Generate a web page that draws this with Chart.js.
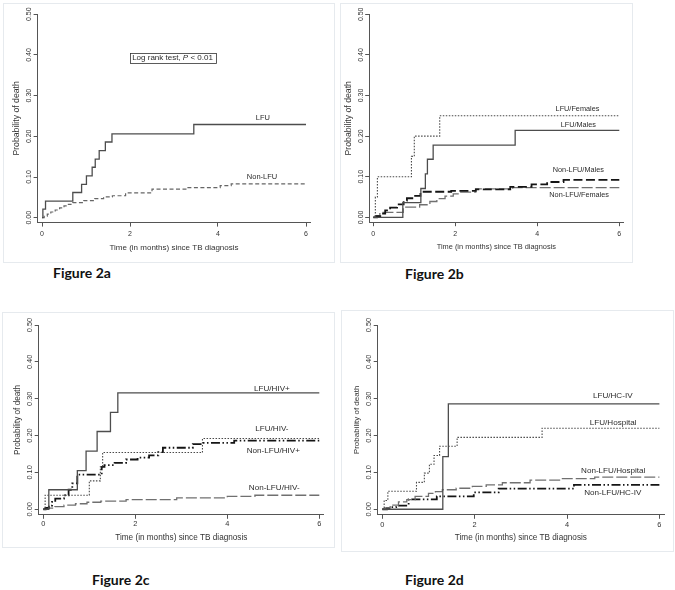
<!DOCTYPE html>
<html>
<head>
<meta charset="utf-8">
<script src="https://cdn.jsdelivr.net/npm/chart.js@4"></script>
<style>
  body { margin: 0; background: #fff; width: 675px; height: 590px; position: relative; overflow: hidden; }
  .panel { position: absolute; border: 1px solid #e6eaee; box-sizing: border-box; }
  canvas { position: absolute; }
  .fig { position: absolute; font: bold 14px/14px Lato, "Open Sans", sans-serif; color: #111; white-space: nowrap; }
</style>
</head>
<body>
<div class="panel" style="left:3px;top:3px;width:332px;height:260px"></div>
<div class="panel" style="left:340px;top:3px;width:293px;height:260px"></div>
<div class="panel" style="left:2px;top:312px;width:333px;height:236px"></div>
<div class="panel" style="left:341px;top:310px;width:333px;height:242px"></div>

<canvas id="c2a" width="332" height="260" style="left:3px;top:3px"></canvas>
<canvas id="c2b" width="293" height="260" style="left:340px;top:3px"></canvas>
<canvas id="c2c" width="333" height="236" style="left:2px;top:312px"></canvas>
<canvas id="c2d" width="333" height="242" style="left:341px;top:310px"></canvas>

<div class="fig" style="left:53px;top:266px">Figure 2a</div>
<div class="fig" style="left:405px;top:267px">Figure 2b</div>
<div class="fig" style="left:92px;top:573px">Figure 2c</div>
<div class="fig" style="left:405px;top:573px">Figure 2d</div>

<script>
// ── Axes ─────────────────────────────────────────────────────
const X_TICKS = [0, 2, 4, 6];
const Y_TICKS = [0, 0.1, 0.2, 0.3, 0.4, 0.5];

// ── Figure 2a: LFU vs Non-LFU ────────────────────────────────
const lfuTime2a = [0, 0.02, 0.08, 0.70, 0.90, 1.01, 1.14, 1.21, 1.30, 1.44, 1.59, 3.45, 6];
const lfuProb2a = [0, 0.021, 0.041, 0.062, 0.082, 0.103, 0.124, 0.144, 0.165, 0.186, 0.206, 0.229, 0.229];
const nonLfuTime2a = [0, 0.05, 0.12, 0.2, 0.3, 0.4, 0.5, 0.6, 0.7, 0.95, 1.2, 1.4, 1.6, 1.9, 2.5, 3.3, 4.05, 4.3, 6];
const nonLfuProb2a = [0, 0.004, 0.009, 0.014, 0.019, 0.024, 0.029, 0.033, 0.037, 0.042, 0.047, 0.051, 0.054, 0.061, 0.070, 0.074, 0.079, 0.083, 0.083];

// ── Figure 2b: by sex ────────────────────────────────────────
const femTime2b = [0, 0.05, 0.1, 0.93, 1.0, 1.62, 6];
const femProb2b = [0, 0.05, 0.10, 0.15, 0.20, 0.25, 0.25];
const maleTime2b = [0, 0.72, 1.16, 1.27, 1.32, 1.46, 3.46, 6];
const maleProb2b = [0, 0.036, 0.071, 0.107, 0.143, 0.178, 0.214, 0.214];
const nonMaleTime2b = [0, 0.09, 0.17, 0.29, 0.41, 0.58, 0.74, 0.82, 1.02, 1.15, 1.9, 2.5, 3.34, 3.86, 4.24, 4.64, 6];
const nonMaleProb2b = [0, 0.003, 0.009, 0.017, 0.024, 0.032, 0.041, 0.047, 0.053, 0.063, 0.065, 0.069, 0.075, 0.081, 0.087, 0.092, 0.092];
const nonFemTime2b = [0, 0.05, 0.16, 0.73, 1.13, 1.38, 1.55, 1.75, 1.95, 2.1, 2.5, 3.4, 6];
const nonFemProb2b = [0, 0.004, 0.012, 0.025, 0.031, 0.039, 0.046, 0.052, 0.058, 0.062, 0.070, 0.073, 0.073];

// ── Figure 2c: by HIV status ─────────────────────────────────
const hivPosTime2c = [0, 0.12, 0.74, 0.93, 1.17, 1.46, 1.62, 6];
const hivPosProb2c = [0, 0.053, 0.105, 0.158, 0.211, 0.263, 0.316, 0.316];
const hivNegTime2c = [0, 0.04, 1.0, 1.24, 1.29, 3.46, 6];
const hivNegProb2c = [0, 0.038, 0.077, 0.115, 0.154, 0.192, 0.192];
const nonHivPosTime2c = [0, 0.05, 0.12, 0.19, 0.26, 0.45, 0.55, 0.63, 0.74, 1.27, 1.33, 1.55, 1.8, 2.05, 2.3, 2.5, 2.6, 3.25, 3.45, 4.15, 6];
const nonHivPosProb2c = [0, 0.004, 0.01, 0.02, 0.029, 0.038, 0.053, 0.07, 0.094, 0.115, 0.12, 0.126, 0.135, 0.14, 0.146, 0.155, 0.167, 0.177, 0.18, 0.186, 0.186];
const nonHivNegTime2c = [0, 0.1, 0.25, 0.45, 0.7, 0.95, 1.25, 1.8, 2.9, 4.0, 4.6, 6];
const nonHivNegProb2c = [0, 0.003, 0.007, 0.011, 0.015, 0.019, 0.022, 0.026, 0.031, 0.035, 0.038, 0.038];

// ── Figure 2d: by facility ───────────────────────────────────
const hcTime2d = [0, 1.31, 1.43, 6];
const hcProb2d = [0, 0.143, 0.286, 0.286];
const hospTime2d = [0, 0.04, 0.12, 0.74, 0.91, 1.02, 1.12, 1.24, 1.62, 3.46, 6];
const hospProb2d = [0, 0.024, 0.049, 0.073, 0.098, 0.122, 0.146, 0.171, 0.195, 0.22, 0.22];
const nonHospTime2d = [0, 0.05, 0.17, 0.35, 0.53, 0.71, 1.0, 1.15, 1.3, 1.6, 1.95, 2.25, 2.6, 3.2, 3.9, 4.6, 6];
const nonHospProb2d = [0, 0.004, 0.011, 0.02, 0.026, 0.035, 0.043, 0.048, 0.053, 0.057, 0.062, 0.066, 0.072, 0.079, 0.083, 0.087, 0.087];
const nonHcTime2d = [0, 0.1, 0.2, 0.3, 0.57, 1.18, 1.98, 2.52, 4.15, 6];
const nonHcProb2d = [0, 0.003, 0.006, 0.01, 0.027, 0.035, 0.046, 0.056, 0.066, 0.066];

// ── Line styles (Stata-like greys) ───────────────────────────
const LINE_STYLES = {
    solid:      { borderColor: '#4d4d4d', borderWidth: 1.3, borderDash: [] },
    dotted:     { borderColor: '#4a4a4a', borderWidth: 1.1, borderDash: [1.5, 1.5] },
    dashed:     { borderColor: '#666', borderWidth: 1.2, borderDash: [4, 2.5] },
    longdash:   { borderColor: '#707070', borderWidth: 1.3, borderDash: [11, 3] },
    heavydash:  { borderColor: '#151515', borderWidth: 1.8, borderDash: [9, 3.5] },
    dashdotdot: { borderColor: '#151515', borderWidth: 1.8, borderDash: [9, 2.5, 1.5, 2.5, 1.5, 2.5] },
};

const FONT = '"Liberation Sans", Arial, sans-serif';
const Y_AXIS_W = 29;
const X_AXIS_H = 30;

const pts = (t, p) => t.map((x, i) => ({ x, y: p[i] }));

// ── Panels ───────────────────────────────────────────────────
const PANELS = [
    {
        id: 'c2a', area: { left: 34.6, right: 307.4, top: 11.2, bottom: 219.6 }, yMin: -0.012,
        labelFont: 7.5, tickFont: 7, yTitleFont: 8.7, xTitleFont: 8, tickDist: 11, titleDist: 25,
        series: [
            { name: 'LFU', t: lfuTime2a, p: lfuProb2a, style: 'solid', at: [5.02, 0.246] },
            { name: 'Non-LFU', t: nonLfuTime2a, p: nonLfuProb2a, style: 'dashed', at: [5.0, 0.099] },
        ],
        logRank: [2.966, 0.394],
    },
    {
        id: 'c2b', area: { left: 29.2, right: 283.4, top: 11.3, bottom: 219.2 }, yMin: -0.012,
        labelFont: 7.3, tickFont: 7, yTitleFont: 8.7, xTitleFont: 7.4, tickDist: 11, titleDist: 25,
        series: [
            { name: 'LFU/Females', t: femTime2b, p: femProb2b, style: 'dotted', at: [4.98, 0.268] },
            { name: 'LFU/Males', t: maleTime2b, p: maleProb2b, style: 'solid', at: [5.0, 0.228] },
            { name: 'Non-LFU/Males', t: nonMaleTime2b, p: nonMaleProb2b, style: 'heavydash', at: [5.0, 0.1175] },
            { name: 'Non-LFU/Females', t: nonFemTime2b, p: nonFemProb2b, style: 'longdash', at: [5.02, 0.055] },
        ],
    },
    {
        id: 'c2c', area: { left: 36.7, right: 321.9, top: 13, bottom: 202.8 }, yMin: -0.015,
        labelFont: 8.1, tickFont: 7.4, yTitleFont: 8.2, xTitleFont: 8.2, tickDist: 8.5, titleDist: 22.5,
        series: [
            { name: 'LFU/HIV+', t: hivPosTime2c, p: hivPosProb2c, style: 'solid', at: [4.97, 0.328] },
            { name: 'LFU/HIV-', t: hivNegTime2c, p: hivNegProb2c, style: 'dotted', at: [4.97, 0.219] },
            { name: 'Non-LFU/HIV+', t: nonHivPosTime2c, p: nonHivPosProb2c, style: 'dashdotdot', at: [5.0, 0.158] },
            { name: 'Non-LFU/HIV-', t: nonHivNegTime2c, p: nonHivNegProb2c, style: 'longdash', at: [5.02, 0.058] },
        ],
    },
    {
        id: 'c2d', area: { left: 36.7, right: 323, top: 15, bottom: 204.8 }, yMin: -0.015,
        labelFont: 8.1, tickFont: 7.4, yTitleFont: 8, xTitleFont: 8.2, tickDist: 10, titleDist: 22.6,
        series: [
            { name: 'LFU/HC-IV', t: hcTime2d, p: hcProb2d, style: 'solid', at: [4.99, 0.307] },
            { name: 'LFU/Hospital', t: hospTime2d, p: hospProb2d, style: 'dotted', at: [5.0, 0.236] },
            { name: 'Non-LFU/Hospital', t: nonHospTime2d, p: nonHospProb2d, style: 'longdash', at: [5.0, 0.104] },
            { name: 'Non-LFU/HC-IV', t: nonHcTime2d, p: nonHcProb2d, style: 'dashdotdot', at: [4.99, 0.045] },
        ],
    },
];

// ── Curve labels + log-rank box ──────────────────────────────
function notesPlugin(panel) {
    return {
        id: 'notes',
        afterDatasetsDraw(chart) {
            const { ctx, scales: { x, y } } = chart;
            ctx.save();
            ctx.fillStyle = '#2b2b2b';
            ctx.textAlign = 'center';
            ctx.textBaseline = 'middle';
            ctx.font = `${panel.labelFont}px ${FONT}`;
            panel.series.forEach(s => {
                ctx.fillText(s.name, x.getPixelForValue(s.at[0]), y.getPixelForValue(s.at[1]));
            });

            if (panel.logRank) {
                const cx = x.getPixelForValue(panel.logRank[0]);
                const cy = y.getPixelForValue(panel.logRank[1]);
                const size = 8;
                const parts = [
                    { text: 'Log rank test, ', font: `${size}px ${FONT}` },
                    { text: 'P', font: `italic ${size}px ${FONT}` },
                    { text: ' < 0.01', font: `${size}px ${FONT}` },
                ];
                let total = 0;
                parts.forEach(pt => { ctx.font = pt.font; pt.w = ctx.measureText(pt.text).width; total += pt.w; });
                const bw = total + 5, bh = 9.5;
                ctx.strokeStyle = '#333';
                ctx.lineWidth = 0.8;
                ctx.strokeRect(Math.round(cx - bw / 2) + 0.5, Math.round(cy - bh / 2) + 0.5, Math.round(bw), Math.round(bh));
                ctx.textAlign = 'left';
                let px = cx - total / 2;
                parts.forEach(pt => { ctx.font = pt.font; ctx.fillText(pt.text, px, cy + 0.5); px += pt.w; });
            }
            ctx.restore();
        },
    };
}

function makePanel(panel) {
    const canvas = document.getElementById(panel.id);
    const W = canvas.width, H = canvas.height;
    const a = panel.area;
    const yLabelPad = 8.3 - 4 - 0.973 * panel.tickFont;   // centre rotated labels ~8px left of axis
    const xLabelPad = panel.tickDist - 4 - 0.547 * panel.tickFont;
    const xTitlePad = X_AXIS_H - panel.titleDist - panel.xTitleFont * 0.6;
    const yTitlePad = 8 - panel.yTitleFont * 0.6;

    return new Chart(canvas, {
        type: 'line',
        data: {
            datasets: panel.series.map(s => ({
                label: s.name,
                data: pts(s.t, s.p),
                ...LINE_STYLES[s.style],
                stepped: true,
                pointRadius: 0,
                fill: false,
                tension: 0,
            })),
        },
        options: {
            responsive: false,
            animation: false,
            devicePixelRatio: 1,
            layout: {
                padding: {
                    left: a.left - Y_AXIS_W,
                    right: W - a.right,
                    top: a.top,
                    bottom: H - a.bottom - X_AXIS_H,
                },
            },
            plugins: { legend: { display: false }, tooltip: { enabled: false } },
            scales: {
                x: {
                    type: 'linear',
                    min: -0.1,
                    max: 6.1,
                    afterBuildTicks: ax => { ax.ticks = X_TICKS.map(v => ({ value: v })); },
                    afterFit: ax => { ax.height = X_AXIS_H; },
                    ticks: {
                        autoSkip: false,
                        maxRotation: 0,
                        padding: xLabelPad,
                        color: '#333',
                        font: { family: FONT, size: panel.tickFont },
                        callback: v => String(v),
                    },
                    grid: { drawOnChartArea: false, drawTicks: true, tickLength: 4, color: '#555', lineWidth: 1 },
                    border: { display: true, color: '#555', width: 1 },
                    title: {
                        display: true,
                        text: 'Time (in months) since TB diagnosis',
                        color: '#333',
                        font: { family: FONT, size: panel.xTitleFont },
                        padding: { top: 0, bottom: xTitlePad },
                    },
                },
                y: {
                    type: 'linear',
                    min: panel.yMin,
                    max: 0.5,
                    afterBuildTicks: ax => { ax.ticks = Y_TICKS.map(v => ({ value: v })); },
                    afterFit: ax => { ax.width = Y_AXIS_W; },
                    ticks: {
                        autoSkip: false,
                        minRotation: 90,
                        maxRotation: 90,
                        crossAlign: 'center',
                        padding: yLabelPad,
                        color: '#333',
                        font: { family: FONT, size: panel.tickFont },
                        callback: v => v.toFixed(2),
                    },
                    grid: { drawOnChartArea: false, drawTicks: true, tickLength: 4, color: '#555', lineWidth: 1 },
                    border: { display: true, color: '#555', width: 1 },
                    title: {
                        display: true,
                        text: 'Probability of death',
                        color: '#333',
                        font: { family: FONT, size: panel.yTitleFont },
                        padding: { top: yTitlePad, bottom: 0 },
                    },
                },
            },
        },
        plugins: [notesPlugin(panel)],
    });
}

PANELS.forEach(makePanel);
</script>
</body>
</html>
